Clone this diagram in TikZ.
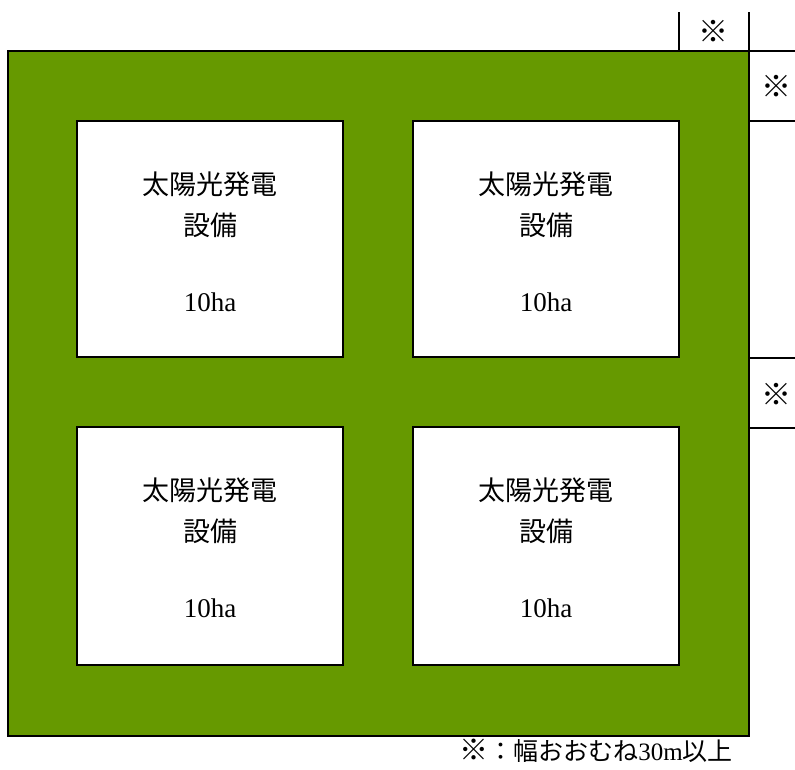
\documentclass[tikz,border=0pt]{standalone}
\usepackage{fontspec}
\setmainfont{Liberation Serif}
\newfontfamily\jp{Noto Sans CJK JP}
\definecolor{grn}{RGB}{102,153,0}
\begin{document}
\begin{tikzpicture}[x=1pt,y=-1pt,
  framebox/.style={fill=grn,draw=black,line width=2pt},
  plotbox/.style={fill=white,draw=black,line width=1.5pt},
  markline/.style={draw=black,line width=1.5pt},
  jplbl/.style={font=\fontsize{27}{30}\selectfont\jp,inner sep=0pt},
  numlbl/.style={font=\fontsize{27}{30}\selectfont,inner sep=0pt},
  marklbl/.style={font=\fontsize{30}{32}\selectfont\jp,inner sep=0pt},
  notelbl/.style={font=\fontsize{25}{28}\selectfont\jp,inner sep=0pt}]
\useasboundingbox (0,0) rectangle (795,769);
% green area
\draw[framebox] (8,51) rectangle (749,736);
% plots
\foreach \x/\y/\b/\n in {77/121/357/a,413/121/357/b,77/427/665/c,413/427/665/d}{
  \draw[plotbox] (\x,\y) rectangle ({\x+266},\b);
  \node[jplbl] (t1\n) at ({\x+133},{\y+63}) {太陽光発電};
  \node[jplbl] (t2\n) at ({\x+133},{\y+104}) {設備};
  \node[numlbl] (t3\n) at ({\x+133},{\y+181}) {10ha};
}
% width marks
\coordinate (m1a) at (679,12); \coordinate (m1b) at (679,51);
\coordinate (m2a) at (749,12); \coordinate (m2b) at (749,51);
\draw[markline] (m1a) -- (m1b);
\draw[markline] (m2a) -- (m2b);
\coordinate (h1a) at (749,51); \coordinate (h1b) at (795,51);
\coordinate (h2a) at (749,121); \coordinate (h2b) at (795,121);
\coordinate (h3a) at (749,358); \coordinate (h3b) at (795,358);
\coordinate (h4a) at (749,428); \coordinate (h4b) at (795,428);
\draw[markline] (h1a) -- (h1b);
\draw[markline] (h2a) -- (h2b);
\draw[markline] (h3a) -- (h3b);
\draw[markline] (h4a) -- (h4b);
\node[marklbl] (k1) at (713,31) {※};
\node[marklbl] (k2) at (776,86) {※};
\node[marklbl] (k3) at (776,394) {※};
% note
\node[notelbl] (note) at (596,751) {{\fontsize{29}{30}\selectfont ※}：幅おおむね{\rmfamily 30m}以上};
\end{tikzpicture}
\end{document}
